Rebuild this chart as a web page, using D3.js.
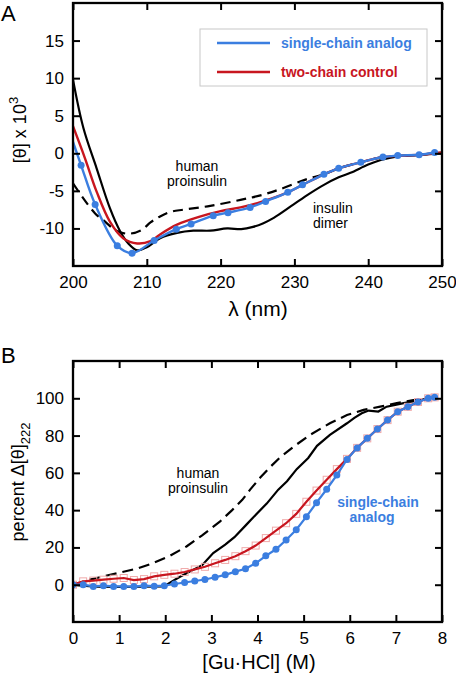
<!DOCTYPE html>
<html><head><meta charset="utf-8">
<script src="https://cdn.jsdelivr.net/npm/d3@7"></script>
<style>
body{margin:0;background:#fff;}
svg{display:block;font-family:"Liberation Sans",Arial,Helvetica,sans-serif;}
</style></head>
<body><svg id="c" width="456" height="676"></svg>
<script>
// ---------- Panel A data: wavelength (nm), [theta] x 10^3 ----------
const aXTicks = [200, 210, 220, 230, 240, 250];
const aYTicks = [-10, -5, 0, 5, 10, 15];
const aInsulinDimer = [[200,9.8],[201.4,3.4],[203.2,-2],[205,-7.3],[206.4,-10.4],[207.5,-12],[208.7,-12.9],[210,-12.5],[211.8,-11.3],[214.1,-10.6],[216.3,-10.3],[218.6,-10.3],[220.9,-10.0],[222.8,-10.1],[224.4,-9.8],[225.8,-9.3],[227.2,-8.6],[229.9,-6.8],[232,-5.4],[234,-4.2],[236,-3.2],[237.6,-2.6],[240,-1.5],[241.7,-0.9],[244,-0.4],[247,-0.2],[250,0]];
const aProinsulin = [[200,-4],[201.4,-6],[203,-8],[204.1,-8.9],[205.9,-10.3],[207.5,-10.7],[209.3,-10.2],[210.5,-9.2],[211.8,-8.4],[213.2,-7.8],[215,-7.5],[218.6,-7.0],[222.7,-6.2],[225.4,-5.6],[228,-4.8],[231.8,-3.4],[234,-2.8],[236,-2],[239,-1.2],[242,-0.5],[244,-0.4],[247,-0.2],[250,0.1]];
const aTwoChain = [[200,3.6],[201.6,-0.6],[203.2,-5.1],[205,-9.1],[206.8,-11.3],[208.7,-12],[210.5,-11.7],[211.8,-10.8],[214.1,-9.5],[217.3,-8.4],[220,-7.7],[222.7,-7.2],[225.4,-6.5],[229.1,-5.2],[231.1,-4.2],[234,-2.8],[236,-2],[239,-1.2],[242,-0.5],[244,-0.35],[247,-0.2],[250,0.1]];
const aSingleChainStart = [200, 1.5];
const aSingleChainDots = [[201.1,-1.6],[203,-6.8],[206,-12.3],[208,-13.3],[211,-11.6],[214,-10.1],[216,-9.4],[219,-8.3],[221,-7.9],[224,-7.2],[226.1,-6.4],[229.1,-5.2],[231.1,-4.2],[234,-2.8],[236,-2],[239,-1.2],[242,-0.5],[244,-0.3],[246.9,-0.2],[249,0.1]];

// ---------- Panel B data: [Gu-HCl] (M), percent change ----------
const bXTicks = [0,1,2,3,4,5,6,7,8];
const bYTicks = [0,20,40,60,80,100];
const bConc = [0,0.22,0.44,0.66,0.88,1.1,1.32,1.54,1.76,1.98,2.2,2.42,2.64,2.86,3.08,3.3,3.52,3.74,3.96,4.18,4.4,4.62,4.84,5.06,5.28,5.5,5.72,5.94,6.16,6.38,6.6,6.82,7.04,7.26,7.48,7.7,7.84];
const bSingleChain = [0,0,-0.9,-0.5,-0.9,-0.9,-1,-0.5,-0.8,-0.5,0.4,1.2,2,2.8,4,5.3,7,8.6,11.5,15.5,19,24,29.5,36.5,44,51.2,58.8,67.2,73.4,78.5,83.5,88.3,92.8,95.4,98,100,100.5];
const bTwoChain = [0,1.8,2.2,2.7,3.2,3.6,2.5,3.0,4.5,5.3,5.9,6.8,8.2,9.6,11.5,13.3,15.3,18,21,25,29,33,38,44.5,50.5,56.3,62,67.5,73.4,78.5,83.5,88.3,92.8,95.4,98,100,100.5];
const bInsulin = [[0,0],[0.2,-0.5],[0.5,-1.1],[1.0,-1.2],[1.5,-1.1],[1.95,-0.9],[2.05,0.3],[2.3,4],[2.55,7.3],[2.8,10.5],[3.04,17],[3.3,21.5],[3.5,25.5],[3.77,32.5],[4.0,38.5],[4.2,43.5],[4.45,51],[4.64,55.5],[4.85,62],[5.1,68],[5.29,74.5],[5.57,80.4],[5.94,86.6],[6.1,89.5],[6.26,92],[6.41,93.4],[6.62,92.9],[6.8,95.5],[7.17,97.4],[7.53,99.1],[7.82,100.5]];
const bProinsulin = [[0,0],[0.37,2.7],[0.66,4.5],[1.02,6.5],[1.38,8.6],[1.74,11.6],[2.1,15.5],[2.46,20.5],[2.8,26.5],[3.19,34],[3.45,40],[3.67,45.5],[3.84,51],[4.06,57.5],[4.27,63],[4.49,68.3],[4.78,74],[5.14,80.4],[5.57,86.6],[5.94,91],[6.3,93.8],[6.66,95.5],[7.02,97.4],[7.38,99],[7.82,100]];

const BLUE = "#3b7ee0", RED = "#c8161f", PINK = "#f0a9a9";
const svg = d3.select("#c");

function frame(g, x, y, xt, yt) {
  const [x0,x1] = x.range(), [y1,y0] = y.range();
  g.append("g").attr("transform",`translate(0,${y1})`)
    .call(d3.axisBottom(x).tickValues(xt).tickSize(-7).tickPadding(10).tickFormat(d=>String(d)))
    .call(s=>{s.select(".domain").remove(); s.selectAll("text").attr("font-size",17).attr("fill","#000").attr("font-family","Liberation Sans, Arial");});
  g.append("g").attr("transform",`translate(0,${y0})`)
    .call(d3.axisTop(x).tickValues(xt).tickSize(-7).tickFormat(""))
    .call(s=>s.select(".domain").remove());
  g.append("g").attr("transform",`translate(${x0},0)`)
    .call(d3.axisLeft(y).tickValues(yt).tickSize(-7).tickPadding(9).tickFormat(d=>String(d)))
    .call(s=>{s.select(".domain").remove(); s.selectAll("text").attr("font-size",17).attr("fill","#000").attr("font-family","Liberation Sans, Arial");});
  g.append("g").attr("transform",`translate(${x1},0)`)
    .call(d3.axisRight(y).tickValues(yt).tickSize(-7).tickFormat(""))
    .call(s=>s.select(".domain").remove());
  g.selectAll(".tick line").attr("stroke","#000").attr("stroke-width",2);
  g.append("rect").attr("x",x0).attr("y",y0).attr("width",x1-x0).attr("height",y1-y0)
    .attr("fill","none").attr("stroke","#000").attr("stroke-width",2.3);
}

// ================= Panel A =================
const xA = d3.scaleLinear().domain([200,250]).range([73,442]);
const yA = d3.scaleLinear().domain([-15,20]).range([266,3]);
const gA = svg.append("g");
gA.append("clipPath").attr("id","clipA").append("rect").attr("x",73).attr("y",3).attr("width",369).attr("height",263);
const lineA = d3.line().x(d=>xA(d[0])).y(d=>yA(d[1])).curve(d3.curveCatmullRom.alpha(0.5));
const curvesA = gA.append("g").attr("clip-path","url(#clipA)");
curvesA.append("path").attr("d",lineA(aProinsulin)).attr("fill","none").attr("stroke","#000").attr("stroke-width",2.2).attr("stroke-dasharray","10,6");
curvesA.append("path").attr("d",lineA(aInsulinDimer)).attr("fill","none").attr("stroke","#000").attr("stroke-width",2.2);
curvesA.append("path").attr("d",lineA(aTwoChain)).attr("fill","none").attr("stroke",RED).attr("stroke-width",2.4);
curvesA.append("path").attr("d",lineA([aSingleChainStart].concat(aSingleChainDots))).attr("fill","none").attr("stroke",BLUE).attr("stroke-width",2.4);
curvesA.selectAll("circle").data(aSingleChainDots).join("circle")
  .attr("cx",d=>xA(d[0])).attr("cy",d=>yA(d[1])).attr("r",3.5).attr("fill",BLUE);
frame(gA, xA, yA, aXTicks, aYTicks);

// legend
const leg = gA.append("g");
leg.append("rect").attr("x",200).attr("y",29).attr("width",227).attr("height",57).attr("fill","#fff").attr("stroke","#c8c8c8").attr("stroke-width",1);
leg.append("line").attr("x1",217).attr("x2",270).attr("y1",43).attr("y2",43).attr("stroke",BLUE).attr("stroke-width",2.4);
leg.append("line").attr("x1",217).attr("x2",270).attr("y1",72).attr("y2",72).attr("stroke",RED).attr("stroke-width",2.4);
leg.append("text").attr("x",281).attr("y",48).attr("font-size",14).attr("font-weight","bold").attr("fill",BLUE).text("single-chain analog");
leg.append("text").attr("x",281).attr("y",77).attr("font-size",14).attr("font-weight","bold").attr("fill",RED).text("two-chain control");

gA.append("text").attr("x",197).attr("y",171).attr("text-anchor","middle").attr("font-size",14).text("human");
gA.append("text").attr("x",197).attr("y",186).attr("text-anchor","middle").attr("font-size",14).text("proinsulin");
gA.append("text").attr("x",313).attr("y",213).attr("font-size",14).text("insulin");
gA.append("text").attr("x",313).attr("y",228).attr("font-size",14).text("dimer");

gA.append("text").attr("x",1).attr("y",21).attr("font-size",22).text("A");
gA.append("text").attr("x",258).attr("y",316).attr("text-anchor","middle").attr("font-size",21).text("λ (nm)");
const ylA = gA.append("text").attr("transform","translate(26,130) rotate(-90)").attr("text-anchor","middle").attr("font-size",18);
ylA.append("tspan").text("[θ] x 10");
ylA.append("tspan").attr("dy",-8).attr("font-size",13).text("3");

// ================= Panel B =================
const xB = d3.scaleLinear().domain([0,8]).range([73,442]);
const yB = d3.scaleLinear().domain([-20,120]).range([622,361]);
const gB = svg.append("g");
gB.append("clipPath").attr("id","clipB").append("rect").attr("x",73).attr("y",361).attr("width",369).attr("height",261);
const lineB = d3.line().x(d=>xB(d[0])).y(d=>yB(d[1]));
const curvesB = gB.append("g").attr("clip-path","url(#clipB)");
const redPts = bConc.map((c,i)=>[c,bTwoChain[i]]);
const bluePts = bConc.map((c,i)=>[c,bSingleChain[i]]);
curvesB.append("path").attr("d",lineB(bProinsulin)).attr("fill","none").attr("stroke","#000").attr("stroke-width",2.2).attr("stroke-dasharray","11,6");
curvesB.append("path").attr("d",lineB(bInsulin)).attr("fill","none").attr("stroke","#000").attr("stroke-width",2.2);
curvesB.selectAll("rect.sq").data(redPts).join("rect").attr("class","sq")
  .attr("x",d=>xB(d[0])-3.5).attr("y",d=>yB(d[1])-3.5).attr("width",7).attr("height",7)
  .attr("fill","none").attr("stroke",PINK).attr("stroke-width",1);
curvesB.append("path").attr("d",lineB(redPts)).attr("fill","none").attr("stroke",RED).attr("stroke-width",2.2);
curvesB.append("path").attr("d",lineB(bluePts)).attr("fill","none").attr("stroke",BLUE).attr("stroke-width",2.2);
curvesB.selectAll("circle").data(bluePts).join("circle")
  .attr("cx",d=>xB(d[0])).attr("cy",d=>yB(d[1])).attr("r",3.5).attr("fill",BLUE);
frame(gB, xB, yB, bXTicks, bYTicks);

gB.append("text").attr("x",198).attr("y",478).attr("text-anchor","middle").attr("font-size",14).text("human");
gB.append("text").attr("x",198).attr("y",493).attr("text-anchor","middle").attr("font-size",14).text("proinsulin");
gB.append("text").attr("x",378).attr("y",507).attr("text-anchor","middle").attr("font-size",14).attr("font-weight","bold").attr("fill",BLUE).text("single-chain");
gB.append("text").attr("x",372).attr("y",522).attr("text-anchor","middle").attr("font-size",14).attr("font-weight","bold").attr("fill",BLUE).text("analog");

gB.append("text").attr("x",1).attr("y",363).attr("font-size",22).text("B");
gB.append("text").attr("x",259).attr("y",669).attr("text-anchor","middle").attr("font-size",20).text("[Gu·HCl] (M)");
const ylB = gB.append("text").attr("transform","translate(24,482) rotate(-90)").attr("text-anchor","middle").attr("font-size",18);
ylB.append("tspan").text("percent Δ[θ]");
ylB.append("tspan").attr("dy",6).attr("font-size",13).text("222");
</script></body></html>
